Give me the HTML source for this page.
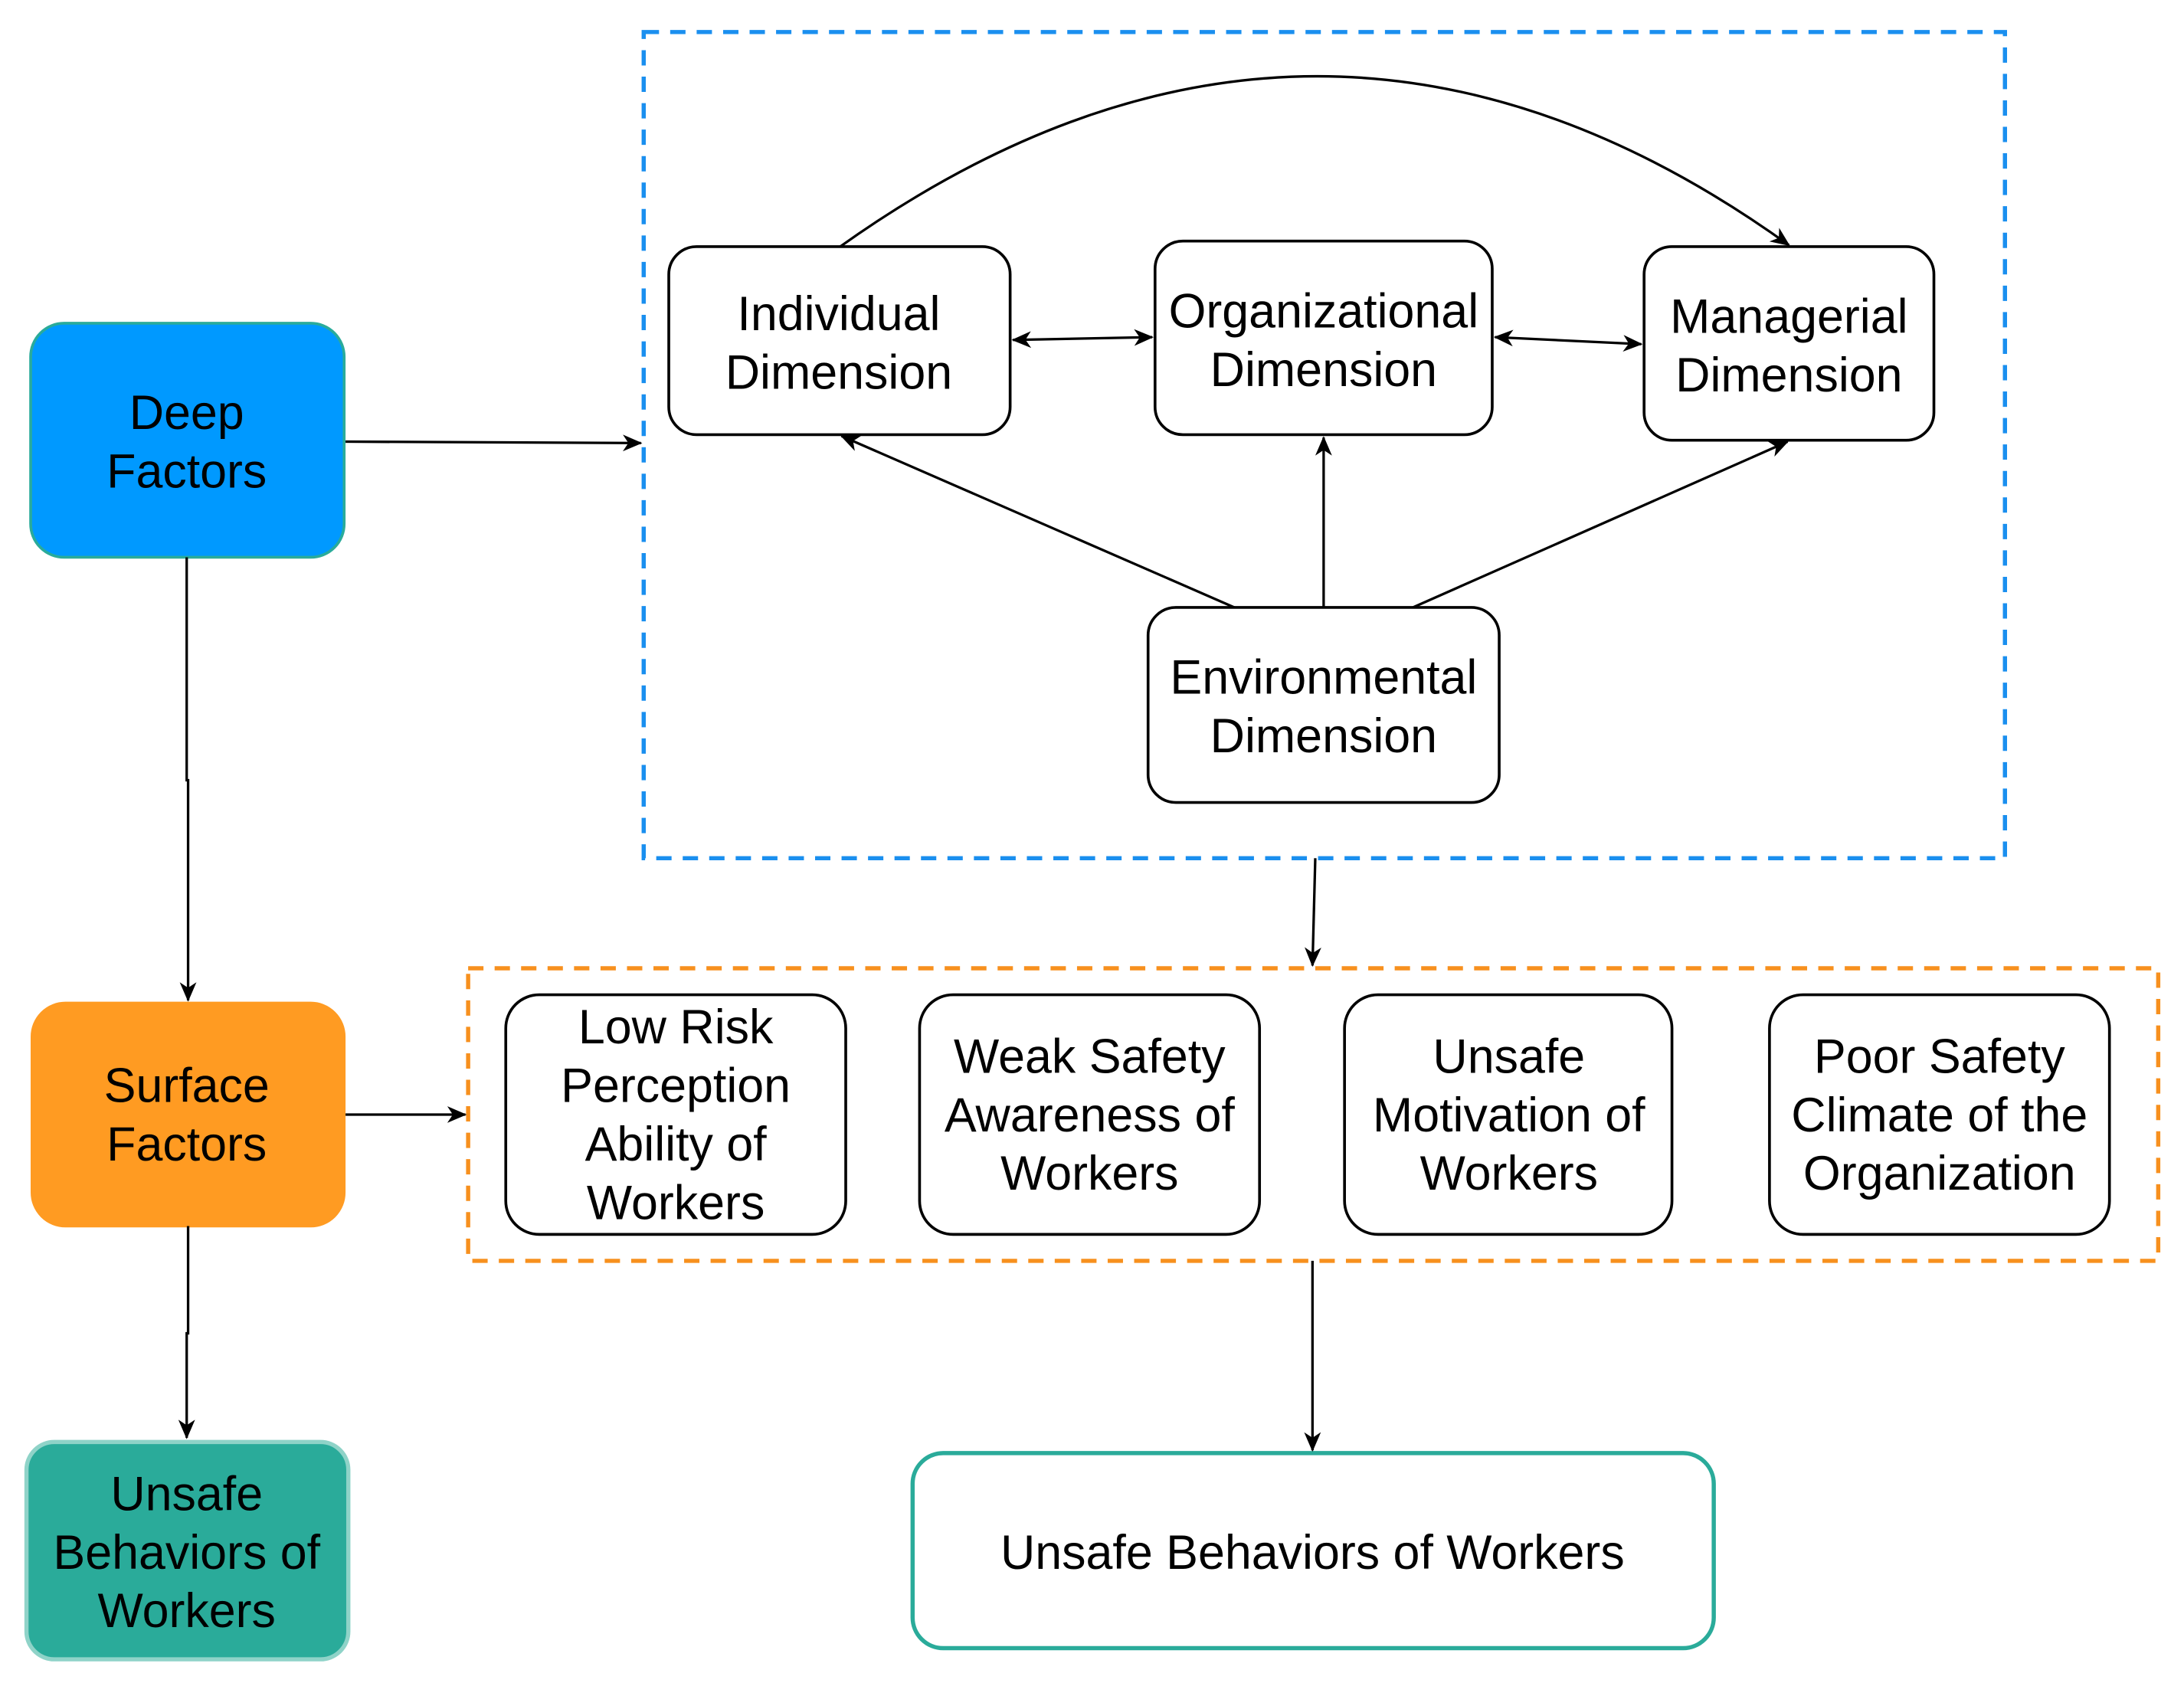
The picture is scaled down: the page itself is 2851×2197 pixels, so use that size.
<!DOCTYPE html>
<html><head><meta charset="utf-8"><style>
html,body{margin:0;padding:0;background:#fff;}
svg{display:block;}
text{font-family:"Liberation Sans",Arial,sans-serif;font-size:34.5px;fill:#000;text-anchor:middle;}
</style></head><body>
<svg width="2851" height="2197" viewBox="0 0 1567.5 1208" preserveAspectRatio="none" xmlns="http://www.w3.org/2000/svg">
<defs>
<marker id="a" markerWidth="14" markerHeight="12" refX="13" refY="6" orient="auto-start-reverse" markerUnits="userSpaceOnUse">
<path d="M0,0 L14,6 L0,12 L4,6 Z" fill="#000"/>
</marker>
</defs>
<rect x="462" y="23" width="977" height="593" fill="none" stroke="#1a8fef" stroke-width="3" stroke-dasharray="11,8"/>
<rect x="336" y="695" width="1213" height="210" fill="none" stroke="#f7901e" stroke-width="3" stroke-dasharray="11,8"/>

<rect x="22" y="232" width="225" height="168" rx="24" fill="#0099ff" stroke="#2aab9a" stroke-width="2"/>
<text x="134" y="308">Deep</text><text x="134" y="350">Factors</text>
<rect x="23" y="720" width="224" height="160" rx="24" fill="#ff9b22" stroke="#ff9b22" stroke-width="2"/>
<text x="134" y="791">Surface</text><text x="134" y="833">Factors</text>
<rect x="19" y="1035" width="231" height="156" rx="20" fill="#2aab9a" stroke="#8fd3c8" stroke-width="3"/>
<text x="134" y="1084">Unsafe</text><text x="134" y="1126">Behaviors of</text><text x="134" y="1168">Workers</text>

<g fill="#fff" stroke="#000" stroke-width="2">
<rect x="480" y="177" width="245" height="135" rx="20"/>
<rect x="829" y="173" width="242" height="139" rx="20"/>
<rect x="1180" y="177" width="208" height="139" rx="20"/>
<rect x="824" y="436" width="252" height="140" rx="20"/>
<rect x="363" y="714" width="244" height="172" rx="24"/>
<rect x="660" y="714" width="244" height="172" rx="24"/>
<rect x="965" y="714" width="235" height="172" rx="24"/>
<rect x="1270" y="714" width="244" height="172" rx="24"/>
</g>
<rect x="655" y="1043" width="575" height="140" rx="22" fill="#fff" stroke="#2aab9a" stroke-width="3"/>

<text x="602" y="237">Individual</text><text x="602" y="279">Dimension</text>
<text x="950" y="235">Organizational</text><text x="950" y="277">Dimension</text>
<text x="1284" y="239">Managerial</text><text x="1284" y="281">Dimension</text>
<text x="950" y="498">Environmental</text><text x="950" y="540">Dimension</text>

<text x="485" y="749">Low Risk</text><text x="485" y="791">Perception</text><text x="485" y="833">Ability of</text><text x="485" y="875">Workers</text>
<text x="782" y="770">Weak Safety</text><text x="782" y="812">Awareness of</text><text x="782" y="854">Workers</text>
<text x="1083" y="770">Unsafe</text><text x="1083" y="812">Motivation of</text><text x="1083" y="854">Workers</text>
<text x="1392" y="770">Poor Safety</text><text x="1392" y="812">Climate of the</text><text x="1392" y="854">Organization</text>
<text x="942" y="1126">Unsafe Behaviors of Workers</text>

<g stroke="#000" stroke-width="1.8" fill="none">
<line x1="248" y1="317" x2="460" y2="318" marker-end="url(#a)"/>
<polyline points="134,400 134,560 135,560 135,718" marker-end="url(#a)"/>
<line x1="248" y1="800" x2="334" y2="800" marker-end="url(#a)"/>
<polyline points="135,880 135,957 134,957 134,1032" marker-end="url(#a)"/>
<line x1="944" y1="616" x2="942" y2="693" marker-end="url(#a)"/>
<line x1="942" y1="905" x2="942" y2="1041" marker-end="url(#a)"/>
<path d="M603,177 Q946,-67 1284,176" marker-end="url(#a)"/>
<line x1="727" y1="244" x2="827" y2="242" marker-start="url(#a)" marker-end="url(#a)"/>
<line x1="1073" y1="242" x2="1178" y2="247" marker-start="url(#a)" marker-end="url(#a)"/>
<line x1="886" y1="436" x2="604" y2="313" marker-end="url(#a)"/>
<line x1="950" y1="436" x2="950" y2="314" marker-end="url(#a)"/>
<line x1="1014" y1="436" x2="1283" y2="317" marker-end="url(#a)"/>
</g>
</svg>
</body></html>
